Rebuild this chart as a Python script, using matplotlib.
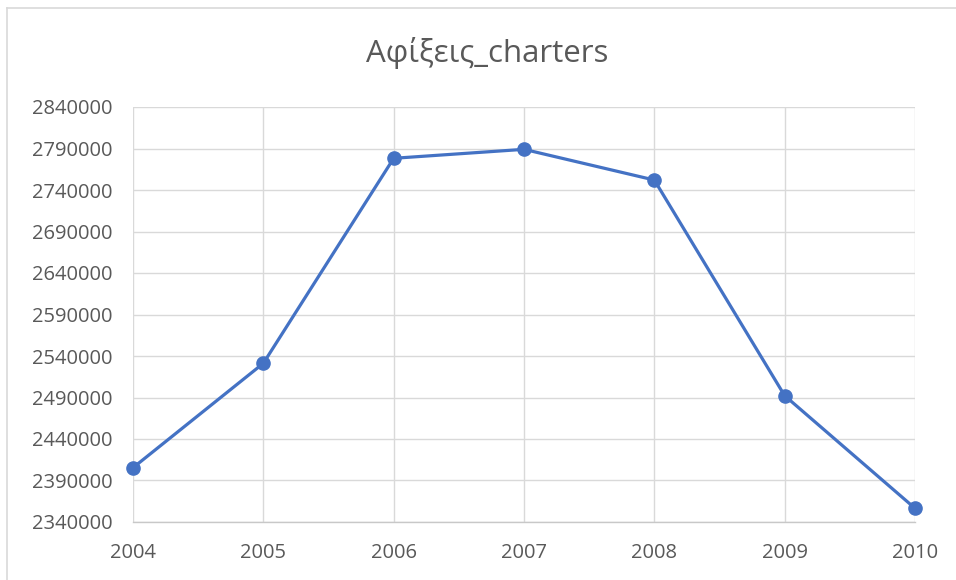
import matplotlib
matplotlib.use("Agg")
import matplotlib.pyplot as plt
from matplotlib.lines import Line2D

# -- Data --
years = ["2004", "2005", "2006", "2007", "2008", "2009", "2010"]
arrivals = [2405400, 2531200, 2778200, 2789000, 2752000, 2492200, 2356500]
y_ticks = list(range(2340000, 2840001, 50000))

# -- Style --
plt.rcParams['font.family'] = ['Open Sans', 'DejaVu Sans']
text_col = "#595959"
grid_col = "#D9D9D9"
line_col = "#4472C4"

fig = plt.figure(figsize=(9.56, 5.8), dpi=100)
ax = fig.add_axes([133 / 956, 1 - 522 / 580, (915 - 133) / 956, (522 - 107) / 580])

x = list(range(len(years)))
ax.plot(x, arrivals, color=line_col, linewidth=2.3, marker="o",
        markersize=9.5, clip_on=False, zorder=3)

ax.set_xlim(0, len(years) - 1)
ax.set_ylim(y_ticks[0], y_ticks[-1])
ax.set_xticks(x)
ax.set_xticklabels(years)
ax.set_yticks(y_ticks)
ax.set_yticklabels([str(v) for v in y_ticks])

ax.grid(True, color=grid_col, linewidth=1.0)
ax.set_axisbelow(True)
for side in ["top", "right", "left"]:
    ax.spines[side].set_visible(False)
ax.spines["bottom"].set_color("#C8C8C8")
ax.spines["bottom"].set_linewidth(1.0)
ax.tick_params(length=0, labelsize=14.5, colors=text_col)
ax.tick_params(axis="x", pad=15)
ax.tick_params(axis="y", pad=15)

fig.text(487 / 956, 1 - 53 / 580, "Αφίξεις_charters", ha="center", va="center",
         fontsize=22.5, color=text_col)

# chart area border (only top and left visible)
fig.add_artist(Line2D([7 / 956, 7 / 956], [0, 1 - 8 / 580], transform=fig.transFigure,
                      color="#D9D9D9", linewidth=1.2))
fig.add_artist(Line2D([7 / 956, 1], [1 - 8 / 580, 1 - 8 / 580], transform=fig.transFigure,
                      color="#D9D9D9", linewidth=1.2))

fig.savefig("out.png", dpi=100, facecolor="white")
